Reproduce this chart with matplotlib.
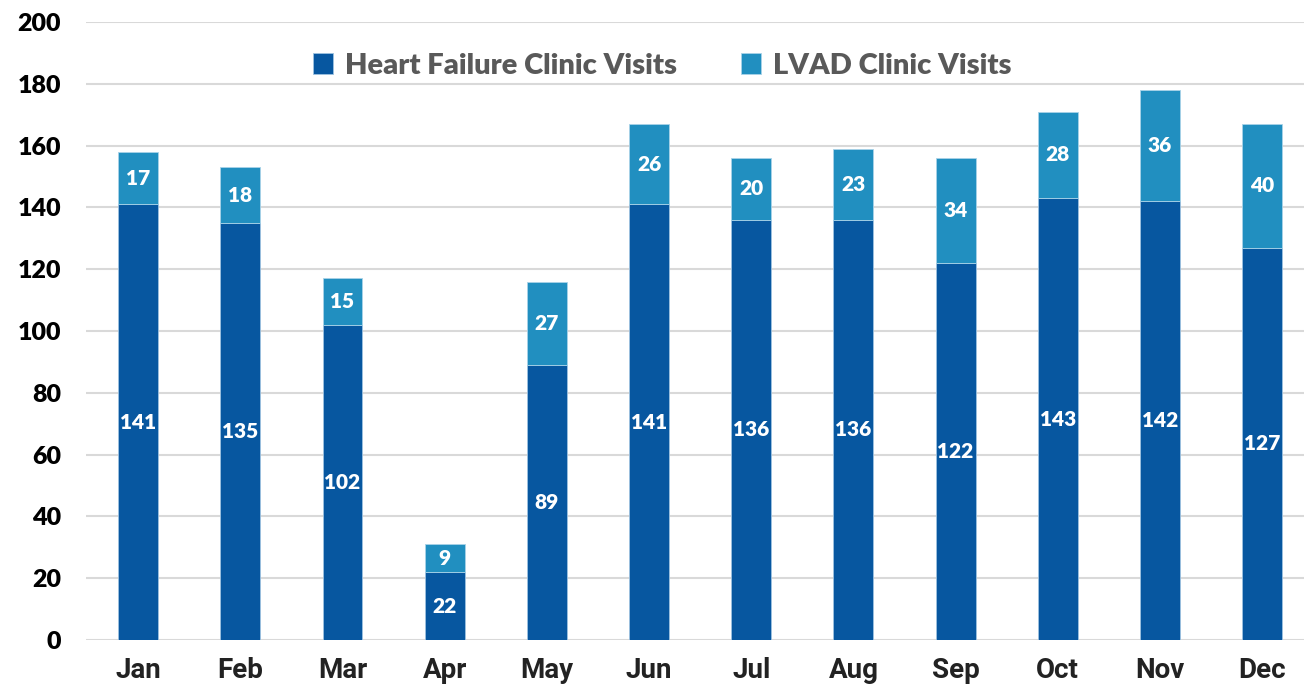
import numpy as np
import matplotlib.pyplot as plt

months = ['Jan', 'Feb', 'Mar', 'Apr', 'May', 'Jun', 'Jul', 'Aug', 'Sep', 'Oct', 'Nov', 'Dec']
hf_visits = [141, 135, 102, 22, 89, 141, 136, 136, 122, 143, 142, 127]
lvad_visits = [17, 18, 15, 9, 27, 26, 20, 23, 34, 28, 36, 40]

dark = '#0757A0'
light = '#218FC0'

plt.rcParams['font.family'] = ['Lato', 'DejaVu Sans']

fig = plt.figure(figsize=(13.04, 6.86), dpi=100)
ax = fig.add_axes([0.066, 0.067, 0.934, 0.901])

x = np.arange(len(months))
w = 0.39
ax.bar(x, hf_visits, w, color=dark, edgecolor='#9ec3e0', linewidth=0.6,
       label='Heart Failure Clinic Visits', zorder=3)
ax.bar(x, lvad_visits, w, bottom=hf_visits, color=light, edgecolor='#a9d3e8',
       linewidth=0.6, label='LVAD Clinic Visits', zorder=3)

for i in range(len(months)):
    ax.text(x[i], hf_visits[i] / 2, str(hf_visits[i]), ha='center', va='center',
            color='white', fontsize=15, fontweight='heavy', zorder=4)
    ax.text(x[i], hf_visits[i] + lvad_visits[i] / 2, str(lvad_visits[i]), ha='center',
            va='center', color='white', fontsize=15, fontweight='heavy', zorder=4)

ax.set_ylim(0, 200)
ax.set_xlim(-0.51, 11.41)
ax.set_yticks(range(0, 201, 20))
ax.yaxis.grid(True, color='#D9D9D9', linewidth=1.5, zorder=0)
ax.set_axisbelow(True)
for s in ax.spines.values():
    s.set_visible(False)
ax.tick_params(axis='both', length=0)
ax.tick_params(axis='y', pad=18, labelsize=18, labelcolor='black')
ax.set_xticks(x)
ax.set_xticklabels(months, fontsize=20, fontweight='bold', color='#222222',
                   family=['Roboto', 'DejaVu Sans'])
ax.tick_params(axis='x', pad=12)
for t in ax.get_yticklabels():
    t.set_fontweight('heavy')

leg = ax.legend(loc='upper center', bbox_to_anchor=(0.473, 0.993), ncol=2, frameon=False,
                fontsize=21, handlelength=0.7, handleheight=0.7, handletextpad=0.4,
                columnspacing=2.2)
for t in leg.get_texts():
    t.set_color('#595959')
    t.set_fontweight('heavy')

fig.savefig('out.png', dpi=100)
